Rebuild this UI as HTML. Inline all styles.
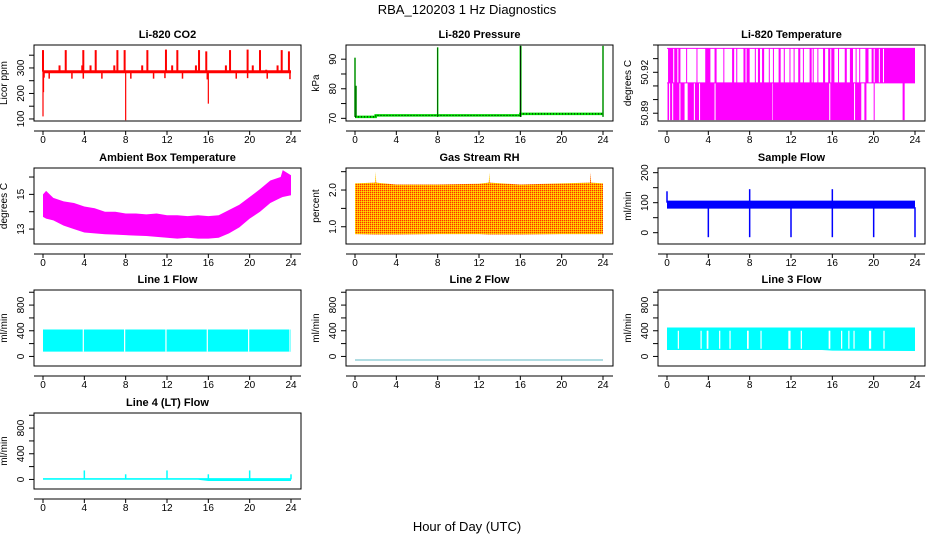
<!DOCTYPE html>
<html><head><meta charset="utf-8">
<style>
html,body{margin:0;padding:0;background:#fff;}
svg{display:block;font-family:"Liberation Sans",Arial,sans-serif;}
</style></head>
<body>
<svg id="chart" width="936" height="540" viewBox="0 0 936 540" xmlns="http://www.w3.org/2000/svg">
<defs>
<pattern id="rhpat" width="2" height="2" patternUnits="userSpaceOnUse">
<rect width="2" height="2" fill="#ffa500"/><rect width="1" height="1" fill="#ff3000"/><rect x="1" y="1" width="1" height="1" fill="#ffe000"/>
</pattern>
</defs>
<text x="467" y="14" text-anchor="middle" font-size="13">RBA_120203  1 Hz Diagnostics</text>
<text x="467" y="531" text-anchor="middle" font-size="13">Hour of Day (UTC)</text>
</svg>
<script>
// ---- data ----
const xTicks = [0,4,8,12,16,20,24];
// CO2
const co2Base = 285;
const co2HighSpikes = [0,2.2,3.9,5.1,7.2,7.9,10.1,11.9,13,15.1,15.8,18.1,19.8,21,23.1,23.8];
const co2HighVals = [370,370,370,370,370,370,370,372,370,370,365,370,372,370,370,365];
const co2MidSpikes = [1.6,3.8,4.6,6.9,9.6,12.5,14.8,17.7,20.3,22.7,21.6];
const co2MidVals = [310,310,310,310,310,310,310,310,310,310,293];
const co2DipHours = [0.1,0.6,2.8,3.9,5.7,8.5,10.7,11.8,13.5,15.9,18.7,19.8,21.7,23.9];
const co2DipVals = [262,258,258,258,258,258,258,260,258,255,258,260,258,256];
const co2BigDipHours = [0,0.05,8,16];
const co2BigDipVals = [110,205,95,160];
// Pressure
const presHours = [0,2,2,16,16,24];
const presVals = [70.5,70.5,71,71,71.5,71.5];
const presSpikeHours = [0,0.1,8,16,16.05,24];
const presSpikeVals = [90.5,81,94,94.5,94.5,94.5];
// Li-820 temperature (levels and time blocks)
const tempLevels = [50.885,50.9122,50.9375];
const tempLowBlocks = [[0.05,0.2],[0.3,0.5],[0.6,1.2],[1.3,1.7],[2.0,2.6],[2.7,3.1],[3.2,4.6],[4.7,10.2],[10.25,15.7],[15.8,18.1],[18.2,18.8],[19.1,19.3],[20.0,20.1],[22.8,23.0]];
const tempHighBlocks = [[0.1,0.6],[0.7,1.0],[1.1,1.3],[3.7,4.2],[4.6,4.8],[6.3,6.5],[6.7,6.8],[7.4,7.6],[7.7,8.0],[8.5,8.6],[8.8,9.0],[9.2,9.4],[10.8,11.0],[11.3,11.4],[12.7,12.9],[13.8,14.0],[14.1,14.2],[15.1,15.3],[15.6,15.8],[15.9,16.2],[17.2,17.4],[17.7,18.0],[18.6,18.7],[19.2,19.5],[19.8,20.0],[20.1,20.5],[20.6,20.9],[21.0,24.0]];
const tempHighLines = [1.9,2.9,5.5,9.9,10.3,11.9,12.3,13.2,14.6,16.6,18.3];
// Ambient box temperature envelope
const ambHours = [0,0.3,1,2,3,4,5,6,7,8,9,10,11,12,13,14,15,16,17,18,19,20,21,22,23,23.2,24];
const ambLo = [13.7,13.6,13.5,13.2,13.0,12.8,12.75,12.7,12.68,12.65,12.62,12.6,12.55,12.5,12.45,12.5,12.45,12.45,12.5,12.75,13.1,13.6,14.0,14.5,14.8,14.85,14.95];
const ambHi = [15.0,15.2,14.8,14.6,14.5,14.3,14.2,14.0,14.0,13.9,13.9,13.85,13.9,13.8,13.8,13.75,13.8,13.75,13.8,14.1,14.4,14.85,15.3,15.8,16.0,16.4,16.1];
// Gas stream RH envelope
const rhHours = [0,1.95,2.0,2.05,4,8,12,12.95,13.0,13.05,16,20,22.75,22.8,22.85,24];
const rhLo = [0.8,0.79,0.79,0.79,0.79,0.8,0.8,0.79,0.79,0.79,0.79,0.8,0.8,0.8,0.8,0.8];
const rhHi = [2.18,2.2,2.5,2.2,2.15,2.15,2.17,2.2,2.48,2.2,2.15,2.18,2.2,2.48,2.2,2.18];
// Sample flow
const sfHours = [0,24];
const sfLo = [80,80];
const sfHi = [107,107];
const sfDipHours = [4,8,12,16,20,24];
const sfDipVals = [-15,-15,-15,-15,-15,-15];
const sfSpikeHours = [0,8,16];
const sfSpikeVals = [138,145,145];
// Line 1 flow
const l1Hours = [0,24];
const l1Lo = [75,75];
const l1Hi = [420,420];
const l1Gaps = [3.9,7.9,11.9,15.9,19.9,23.9];
// Line 2 flow
const l2Hours = [0,24];
const l2Vals = [-56,-56];
// Line 3 flow
const l3Hours = [0,15,16,24];
const l3Lo = [100,100,90,85];
const l3Hi = [450,450,450,450];
const l3Gaps = [1.1,3.3,3.9,3.95,5.1,6.1,7.8,7.85,9.1,11.8,11.9,13.0,15.7,15.75,16.9,17.6,18.1,19.6,19.7,21.0];
// Line 4 flow
const l4Hours = [0,15,16,24];
const l4Lo = [-5,-5,-25,-25];
const l4Hi = [20,20,20,20];
const l4SpikeHours = [4,8,12,16,20,24];
const l4SpikeVals = [140,80,140,80,140,80];

// ---- drawing ----
const svg = document.getElementById('chart');
const NS = 'http://www.w3.org/2000/svg';
function mk(tag, attrs, parent){const e=document.createElementNS(NS,tag);for(const k in attrs)e.setAttribute(k,attrs[k]);(parent||svg).appendChild(e);return e;}
const colLeft=[34,346,658], rowTop=[45,168,290,413], W=267, H=76;

function panel(col,row,name,title,ylab,dom,yTicks,yLabels){
  const L=colLeft[col],T=rowTop[row];
  const g=mk('g',{});
  
  
  const sx=h=>L+9+h/24*(W-19);
  const sy=v=>T+H-(v-dom[0])/(dom[1]-dom[0])*H;
  const plot=mk('g',{},g);
  
  
  const t=mk('text',{x:L+W/2,y:T-7,'text-anchor':'middle','font-size':'11','font-weight':'bold'},g);
  
  
  t.textContent=title;
  const box=mk('rect',{x:L,y:T,width:W,height:H,fill:'none',stroke:'#000','stroke-width':1},g);
  
  
  const xa=mk('g',{},g);
  
  
  const ay=T+H+10;
  mk('line',{x1:L,x2:L+W,y1:ay,y2:ay,stroke:'#000'},xa);
  xTicks.forEach(h=>{mk('line',{x1:sx(h),x2:sx(h),y1:ay,y2:ay+4,stroke:'#000'},xa);
    const tx=mk('text',{x:sx(h),y:ay+12,'text-anchor':'middle','font-size':'10'},xa);tx.textContent=h;});
  const ya=mk('g',{},g);
  
  
  yTicks.forEach(v=>{mk('line',{x1:L-5,x2:L,y1:sy(v),y2:sy(v),stroke:'#000'},ya);});
  yLabels.forEach(v=>{const tx=mk('text',{x:L-10,y:sy(v),'text-anchor':'middle','font-size':'10',transform:`rotate(-90 ${L-10} ${sy(v)})`},ya);tx.textContent=v;});
  const yl=mk('text',{x:L-27,y:T+H/2,'text-anchor':'middle','font-size':'10',transform:`rotate(-90 ${L-27} ${T+H/2})`},g);
  
  
  yl.textContent=ylab;
  return {g:plot,sx,sy};
}
function band(p,hours,lo,hi,fill){
  let d='';hours.forEach((h,i)=>{d+=(i?'L':'M')+p.sx(h)+' '+p.sy(hi[i]);});
  for(let i=hours.length-1;i>=0;i--)d+='L'+p.sx(hours[i])+' '+p.sy(lo[i]);
  return mk('path',{d:d+'Z',fill:fill},p.g);
}
function vlines(p,hours,vals,base,color,w){hours.forEach((h,i)=>{mk('line',{x1:p.sx(h),x2:p.sx(h),y1:p.sy(base),y2:p.sy(vals[i]),stroke:color,'stroke-width':w||1},p.g);});}
function polyline(p,hours,vals,color,w,dash){const pts=hours.map((h,i)=>p.sx(h)+','+p.sy(vals[i])).join(' ');return mk('polyline',{points:pts,fill:'none',stroke:color,'stroke-width':w||1,'stroke-dasharray':dash||'none'},p.g);}
function gaps(p,hs,lo,hi){hs.forEach(h=>{mk('line',{x1:p.sx(h),x2:p.sx(h),y1:p.sy(hi),y2:p.sy(lo),stroke:'#fff','stroke-width':1.2},p.g);});}

// CO2
let p=panel(0,0,'co2','Li-820 CO2','Licor ppm',[92,390],[100,150,200,250,300,350],[100,200,300]);
vlines(p,co2HighSpikes,co2HighVals,co2Base,'#ff0000',2);
vlines(p,co2MidSpikes,co2MidVals,co2Base,'#ff0000',2);
vlines(p,co2DipHours,co2DipVals,co2Base,'#ff0000',1.5);
vlines(p,co2BigDipHours,co2BigDipVals,co2Base,'#ff0000',1.2);
polyline(p,[0,24],[co2Base,co2Base],'#ff0000',3);
// Pressure
p=panel(1,0,'pressure','Li-820 Pressure','kPa',[69.1,94.8],[70,75,80,85,90],[70,80,90]);
vlines(p,presSpikeHours,presSpikeVals,70.5,'#00dd00',1.5);
polyline(p,presHours,presVals,'#00dd00',2.5);
polyline(p,presHours,presVals,'#000',1,'1 2');
vlines(p,presSpikeHours,presSpikeVals,70.5,'#000',0.5);
// Temperature
p=panel(2,0,'li820-temperature','Li-820 Temperature','degrees C',[50.8843,50.94],[50.89,50.90,50.91,50.92,50.93,50.94],[50.89,50.92]);
tempLowBlocks.forEach(b=>{mk('rect',{x:p.sx(b[0]),y:p.sy(tempLevels[1]),width:Math.max(1,p.sx(b[1])-p.sx(b[0])),height:p.sy(tempLevels[0])-p.sy(tempLevels[1]),fill:'#ff00ff'},p.g);});
tempHighBlocks.forEach(b=>{mk('rect',{x:p.sx(b[0]),y:p.sy(tempLevels[2]),width:Math.max(1,p.sx(b[1])-p.sx(b[0])),height:p.sy(tempLevels[1])-p.sy(tempLevels[2]),fill:'#ff00ff'},p.g);});
vlines(p,tempHighLines,tempHighLines.map(()=>tempLevels[2]),tempLevels[1],'#ff00ff',1);
polyline(p,[0,24],[tempLevels[2],tempLevels[2]],'#ff00ff',1);
polyline(p,[0,24],[tempLevels[1],tempLevels[1]],'#ff00ff',1);
// Ambient
p=panel(0,1,'ambient-box-temperature','Ambient Box Temperature','degrees C',[12.14,16.52],[13,14,15,16],[13,15]);
band(p,ambHours,ambLo,ambHi,'#ff00ff');
// RH
p=panel(1,1,'gas-stream-rh','Gas Stream RH','percent',[0.53,2.6],[1.0,1.5,2.0,2.5],['1.0','2.0']);
band(p,rhHours,rhLo,rhHi,'url(#rhpat)');
// Sample flow
p=panel(2,1,'sample-flow','Sample Flow','ml/min',[-37.7,215.6],[0,50,100,150,200],[0,100,200]);
band(p,sfHours,sfLo,sfHi,'#0000ff');
vlines(p,sfDipHours,sfDipVals,85,'#0000ff',1.5);
vlines(p,sfSpikeHours,sfSpikeVals,100,'#0000ff',1.5);
// Line 1
const fdom=[-149,1035],ft=[0,200,400,600,800,1000],fl=[0,400,800];
p=panel(0,2,'line1-flow','Line 1 Flow','ml/min',fdom,ft,fl);
band(p,l1Hours,l1Lo,l1Hi,'#00ffff');gaps(p,l1Gaps,l1Lo[0],l1Hi[0]);
// Line 2
p=panel(1,2,'line2-flow','Line 2 Flow','ml/min',fdom,ft,fl);
polyline(p,l2Hours,l2Vals,'#80c8d0',1.2);
// Line 3
p=panel(2,2,'line3-flow','Line 3 Flow','ml/min',fdom,ft,fl);
band(p,l3Hours,l3Lo,l3Hi,'#00ffff');gaps(p,l3Gaps,120,400);
// Line 4
p=panel(0,3,'line4-flow','Line 4 (LT) Flow','ml/min',fdom,ft,fl);
band(p,l4Hours,l4Lo,l4Hi,'#00ffff');
vlines(p,l4SpikeHours,l4SpikeVals,0,'#00ffff',1.5);
</script>
</body></html>
